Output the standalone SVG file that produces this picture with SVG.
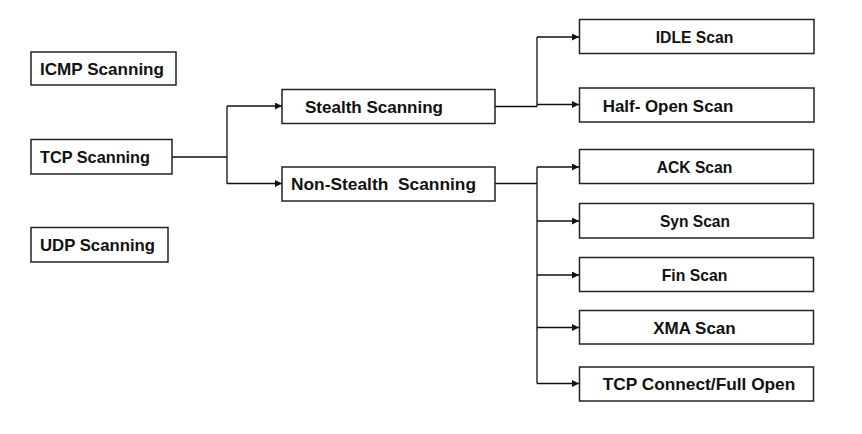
<svg xmlns="http://www.w3.org/2000/svg" width="862" height="434" viewBox="0 0 862 434">
<style>
.box{fill:#fff;stroke:#222;stroke-width:1.5}
.t{font-family:"Liberation Sans",Arial,sans-serif;font-weight:bold;font-size:17px;fill:#111}
.c{text-anchor:middle}
.ln{fill:none;stroke:#111;stroke-width:1.3}
.ar{fill:none;stroke:#111;stroke-width:1.3;marker-end:url(#ah)}
</style>
<defs>
<marker id="ah" viewBox="0 0 10 10" refX="10" refY="5" markerWidth="8" markerHeight="7" markerUnits="userSpaceOnUse" orient="auto">
<path d="M0,0 L10,5 L0,10 z" fill="#111"/>
</marker>
</defs>
<rect width="862" height="434" fill="#fff"/>
<g id="connectors">
<path class="ln" d="M172,157 H227 M227,106 V183.5"/>
<path class="ar" d="M227,106 H282"/>
<path class="ar" d="M227,183.5 H282"/>
<path class="ln" d="M495,106.5 H537 M537,37 V106.5"/>
<path class="ar" d="M537,37 H579"/>
<path class="ar" d="M537,104.5 H579"/>
<path class="ln" d="M495,183.5 H537 M537,167 V383.5"/>
<path class="ar" d="M537,167 H579"/>
<path class="ar" d="M537,221 H579"/>
<path class="ar" d="M537,275 H579"/>
<path class="ar" d="M537,327.5 H579"/>
<path class="ar" d="M537,383.5 H579"/>
</g>
<g id="icmp"><rect class="box" x="31" y="52" width="145" height="33"/><text class="t" x="40" y="75" textLength="124" lengthAdjust="spacingAndGlyphs">ICMP Scanning</text></g>
<g id="tcp"><rect class="box" x="31" y="139.5" width="141" height="34.5"/><text class="t" x="40" y="163.3" textLength="110" lengthAdjust="spacingAndGlyphs">TCP Scanning</text></g>
<g id="udp"><rect class="box" x="31" y="227.5" width="137" height="34.5"/><text class="t" x="40" y="250.7" textLength="115" lengthAdjust="spacingAndGlyphs">UDP Scanning</text></g>
<g id="stealth"><rect class="box" x="282" y="89.5" width="213" height="34"/><text class="t" x="305" y="113.3" textLength="138" lengthAdjust="spacingAndGlyphs">Stealth Scanning</text></g>
<g id="nonstealth"><rect class="box" x="282" y="167" width="213" height="34"/><text class="t" x="291" y="190" textLength="185" lengthAdjust="spacingAndGlyphs" xml:space="preserve">Non-Stealth  Scanning</text></g>
<g id="idle"><rect class="box" x="579.5" y="19.5" width="234.5" height="34"/><text class="t c" x="694.5" y="42.7" textLength="77.6" lengthAdjust="spacingAndGlyphs">IDLE Scan</text></g>
<g id="halfopen"><rect class="box" x="579.5" y="88" width="234.5" height="34"/><text class="t" x="602.7" y="111.5" textLength="130.6" lengthAdjust="spacingAndGlyphs">Half- Open Scan</text></g>
<g id="ack"><rect class="box" x="579.5" y="149.5" width="234" height="34"/><text class="t c" x="694.5" y="172.7" textLength="75.6" lengthAdjust="spacingAndGlyphs">ACK Scan</text></g>
<g id="syn"><rect class="box" x="579.5" y="203.5" width="234" height="34.5"/><text class="t c" x="695" y="227" textLength="70" lengthAdjust="spacingAndGlyphs">Syn Scan</text></g>
<g id="fin"><rect class="box" x="579.5" y="257.5" width="234" height="34"/><text class="t c" x="694.5" y="280.8" textLength="65.6" lengthAdjust="spacingAndGlyphs">Fin Scan</text></g>
<g id="xma"><rect class="box" x="579.5" y="310.5" width="234" height="33.5"/><text class="t c" x="694.5" y="333.5" textLength="82.4" lengthAdjust="spacingAndGlyphs">XMA Scan</text></g>
<g id="tcpconnect"><rect class="box" x="579.5" y="367" width="234" height="34"/><text class="t" x="602.7" y="390.2" textLength="192.6" lengthAdjust="spacingAndGlyphs">TCP Connect/Full Open</text></g>
</svg>
